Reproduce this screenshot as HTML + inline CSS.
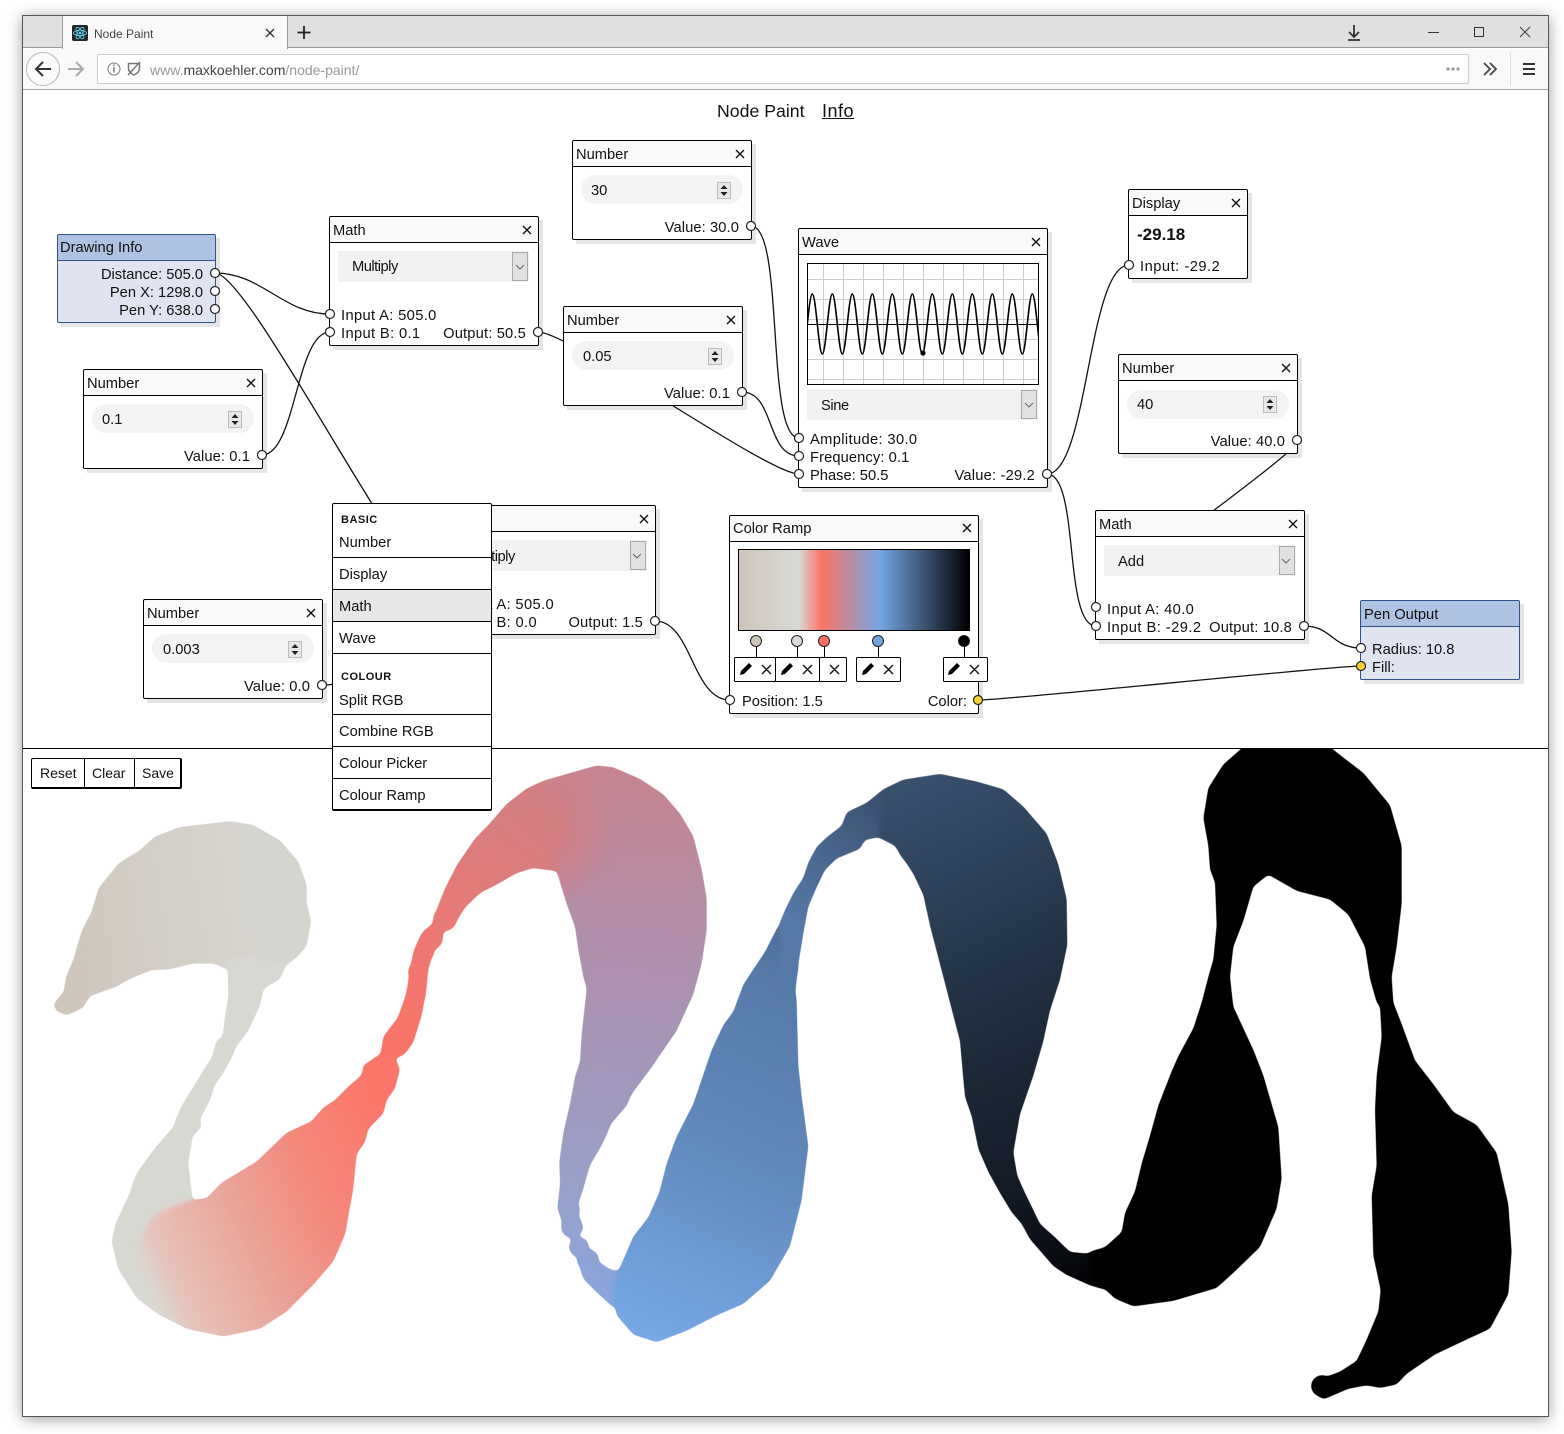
<!DOCTYPE html>
<html lang="en"><head><meta charset="utf-8"><title>Node Paint</title>
<style>
html,body{margin:0;padding:0;background:#fff}
#r{position:relative;width:1564px;height:1434px;overflow:hidden;background:#fff;font-family:"Liberation Sans",sans-serif;font-size:14.7px;color:#111}
#win{position:absolute;left:22px;top:15px;width:1525px;height:1400px;border:1px solid #555;box-shadow:0 2px 14px rgba(0,0,0,.38);background:#fff}
.b{position:absolute;box-sizing:border-box}
.n{position:absolute;box-sizing:border-box;border:1px solid #000;border-radius:2px;background:#fff}
.n>i{display:block;height:25px;border-bottom:1px solid #000;background:#f9f9f9;border-radius:2px 2px 0 0}
.n.p{border-color:#2f5288;background:#e0e4f0}
.n.p>i{background:#aec3e3;border-bottom-color:#2f5288}
.s{position:absolute;background:#f2f2f2}
.s>b{position:absolute;right:1px;top:1px;bottom:1px;width:16px;box-sizing:border-box;background:#e1e1e1;border:1px solid #aaa}
.pl{position:absolute;height:29px;width:162px;border-radius:15px;background:#f3f3f3}
.t{position:absolute;white-space:nowrap;line-height:18px;margin-top:1px}
.i{letter-spacing:.36px}
svg{position:absolute;left:0;top:0}
.m{position:absolute;left:332px;top:503px;width:160px;height:308px;box-sizing:border-box;background:#fff;border:1px solid #000;border-bottom-width:2px;border-radius:2px}
.l{position:absolute;left:332px;width:160px;height:1px;background:#000}
.h{font-size:11px;font-weight:bold;letter-spacing:.5px}
</style></head><body>
<div id="r">
<div id="win"></div>

<!-- browser chrome -->
<div class="b" style="left:23px;top:16px;width:1525px;height:32px;background:#e0e0e0;border-bottom:1px solid #999"></div>
<div class="b" style="left:62px;top:16px;width:226px;height:33px;background:#f9f9fa;border-left:1px solid #999;border-right:1px solid #999"></div>
<div class="b" style="left:23px;top:49px;width:1525px;height:41px;background:#f9f9fa;border-bottom:1px solid #a8a8a8"></div>
<div class="b" style="left:26px;top:52px;width:34px;height:34px;border-radius:50%;border:1px solid #b5b5b5;background:#fbfbfb"></div>
<div class="b" style="left:97px;top:54px;width:1372px;height:30px;background:#fff;border:1px solid #ccc;border-radius:2px"></div>
<div class="b" style="left:72px;top:25px;width:16px;height:16px;background:#222;border-radius:2px"></div>
<div class="t" style="left:94px;top:24px;font-size:12px;color:#444">Node Paint</div>
<div class="t" style="left:150px;top:60px;font-size:14px;color:#999">www.<span style="color:#444">maxkoehler.com</span>/node-paint/</div>

<!-- page title -->
<div class="t" style="left:717px;top:102px;margin-top:0;font-size:17.7px">Node Paint</div>
<div class="t" style="left:822px;top:102px;margin-top:0;font-size:18px;letter-spacing:.5px;text-decoration:underline">Info</div>

<!-- paint -->
<svg width="1564" height="1434" viewBox="0 0 1564 1434">
<defs>
<linearGradient id="g1" gradientUnits="userSpaceOnUse" x1="80" y1="660" x2="640" y2="560"><stop offset="0" stop-color="#cec6bc"/><stop offset="1" stop-color="#d6d4ce"/></linearGradient>
<linearGradient id="g2" gradientUnits="userSpaceOnUse" x1="265" y1="1330" x2="1045" y2="930"><stop offset="0" stop-color="#d9dad5"/><stop offset=".05" stop-color="#dcd3cd"/><stop offset=".1" stop-color="#e3c5be"/><stop offset=".17" stop-color="#e7bdb5"/><stop offset=".45" stop-color="#eb9e93"/><stop offset=".7" stop-color="#f5877a"/><stop offset="1" stop-color="#fb7568"/></linearGradient>
<linearGradient id="g3" gradientUnits="userSpaceOnUse" x1="0" y1="720" x2="450" y2="180"><stop offset="0" stop-color="#f97468"/><stop offset="1" stop-color="#d27f84"/></linearGradient>
<linearGradient id="g4" gradientUnits="userSpaceOnUse" x1="650" y1="40" x2="570" y2="1430"><stop offset="0" stop-color="#c6848f"/><stop offset=".3" stop-color="#b28ea9"/><stop offset=".55" stop-color="#a496b9"/><stop offset=".8" stop-color="#98a1cb"/><stop offset="1" stop-color="#88a5dc"/></linearGradient>
<radialGradient id="g4b" gradientUnits="userSpaceOnUse" cx="420" cy="200" r="220"><stop offset=".3" stop-color="#d27f84"/><stop offset="1" stop-color="#d27f84" stop-opacity="0"/></radialGradient>
<linearGradient id="g5" gradientUnits="userSpaceOnUse" x1="770" y1="1540" x2="1180" y2="480"><stop offset="0" stop-color="#76a8e6"/><stop offset=".5" stop-color="#6088ba"/><stop offset=".89" stop-color="#557aa8"/><stop offset="1" stop-color="#4e6e98"/></linearGradient>
<linearGradient id="g6" gradientUnits="userSpaceOnUse" x1="60" y1="480" x2="340" y2="170"><stop offset="0" stop-color="#557aa8"/><stop offset="1" stop-color="#3a5170"/></linearGradient>
<linearGradient id="g7" gradientUnits="userSpaceOnUse" x1="450" y1="80" x2="1000" y2="1400"><stop offset="0" stop-color="#384f6e"/><stop offset=".45" stop-color="#202e3f"/><stop offset=".75" stop-color="#141b26"/><stop offset=".9" stop-color="#0a0d13"/><stop offset="1" stop-color="#000"/></linearGradient>
<clipPath id="cp"><rect x="23" y="749" width="1525" height="666"/></clipPath>
<clipPath id="cw"><rect x="808" y="264" width="230" height="120"/></clipPath>
<filter id="sm" filterUnits="userSpaceOnUse" x="0" y="700" width="1564" height="734" color-interpolation-filters="sRGB">
<feGaussianBlur stdDeviation="2.4"/>
<feComponentTransfer><feFuncA type="linear" slope="6" intercept="-2.5"/></feComponentTransfer>
</filter>
</defs>
<g clip-path="url(#cp)">
<g filter="url(#sm)">
<circle cx="68" cy="1003" r="11" fill="#cfc7be"/>
<g transform="translate(40 750) scale(.33333 .3846)">
<polygon fill="url(#g1)" points="40,660 70,632 78,590 100,545 125,470 155,420 175,360 235,295 300,260 345,225 420,200 500,192 570,185 640,195 720,235 775,290 800,350 800,395 813,445 800,510 770,540 738,560 720,595 672,620 600,640 562,570 520,555 460,555 390,570 335,572 270,595 230,615 150,640 130,670 80,690 50,680"/>
<polygon fill="#d8d8d3" points="562,545 640,540 738,560 720,595 672,620 660,665 625,730 590,770 575,800 550,840 525,870 510,910 480,960 485,980 458,1005 445,1075 458,1170 470,1300 330,1450 290,1425 235,1350 215,1280 225,1235 265,1160 290,1100 340,1040 400,980 405,965 425,925 450,890 485,840 515,800 530,755 548,745 555,690 565,640"/>
<polygon fill="url(#g2)" points="265,1330 300,1270 340,1210 400,1185 458,1170 500,1165 545,1125 650,1070 740,995 815,965 850,930 885,910 925,875 965,845 970,820 1030,785 1065,800 1080,830 1065,880 1040,910 1030,945 985,985 975,1020 950,1050 940,1140 915,1260 880,1330 820,1390 740,1460 660,1505 550,1525 440,1505 350,1465 290,1425"/>
</g>
<g fill="#f47a6f"><circle cx="445" cy="919" r="12"/><circle cx="432" cy="938" r="11"/><circle cx="424" cy="952" r="10"/><circle cx="418" cy="972" r="10"/><circle cx="416" cy="993" r="10"/></g>
<g fill="#94a2d2"><circle cx="570" cy="1210" r="10"/><circle cx="572" cy="1227" r="11"/><circle cx="579" cy="1247" r="10"/><circle cx="588" cy="1260" r="11"/></g>
<g transform="translate(400 750) scale(.33333 .3846)">
<polygon fill="url(#g3)" points="-10,700 0,680 20,630 30,565 42,520 62,480 98,450 112,410 135,360 170,300 225,230 265,195 320,140 380,100 430,80 520,60 520,312 470,315 400,307 350,320 290,350 240,372 195,410 170,445 130,475 125,505 100,525 85,570 78,630 65,690 40,760 15,790 -5,800 -60,800 -50,745"/>
<polygon fill="url(#g4)" points="430,80 510,60 590,40 640,45 720,75 790,115 840,165 880,225 905,310 920,385 920,470 905,555 880,635 830,730 755,825 695,895 680,925 635,970 610,1020 570,1080 550,1140 535,1180 535,1205 550,1245 530,1265 565,1300 595,1330 630,1350 655,1355 690,1400 640,1450 590,1410 550,1375 530,1320 505,1295 515,1270 490,1240 472,1190 480,1130 478,1070 490,995 510,920 525,850 540,810 545,740 560,620 550,590 535,520 525,460 500,400 470,315"/>
<polygon fill="url(#g4b)" points="430,80 510,60 590,40 640,45 720,75 760,300 700,600 560,620 550,590 535,520 525,460 500,400 470,315"/>
<polygon fill="url(#g5)" points="655,1355 700,1265 745,1215 778,1150 800,1075 830,1005 880,920 935,780 970,715 1000,680 1030,610 1060,570 1095,525 1130,465 1170,410 1200,440 1195,570 1185,620 1190,650 1195,820 1205,900 1225,1030 1205,1170 1170,1290 1110,1380 1030,1440 950,1470 860,1510 770,1540 700,1520 650,1470 635,1400"/>
</g>
<g transform="translate(780 745) scale(.33333 .3846)">
<polygon fill="url(#g6)" points="0,460 20,420 40,385 70,345 85,305 110,265 140,240 185,210 200,175 260,150 310,115 370,90 370,300 345,262 295,240 255,247 240,270 170,295 135,325 110,370 85,420 70,490 55,570 45,650 0,650"/>
<polygon fill="url(#g7)" points="310,115 370,90 480,75 590,95 670,115 730,160 800,230 835,310 860,400 862,520 840,610 810,690 790,770 760,860 720,960 700,1060 712,1120 735,1165 755,1200 780,1245 825,1280 870,1318 920,1322 975,1310 1025,1270 1075,1340 970,1415 930,1405 860,1378 820,1355 785,1320 750,1285 725,1245 695,1215 660,1165 625,1110 595,1050 575,965 555,915 548,850 540,770 510,670 480,570 450,470 430,390 400,335 345,262 295,240"/>
</g>
<circle cx="1322" cy="1386" r="11" fill="#000"/>
<g transform="translate(1090 745) scale(.33333 .4292)">
<polygon fill="#000" points="0,1180 45,1170 95,1135 105,1090 135,1040 155,975 180,910 205,840 245,760 265,725 310,660 335,600 355,540 370,500 380,420 375,320 360,290 355,235 340,170 355,100 400,45 455,8 470,-20 710,-20 725,8 820,65 900,140 935,235 935,370 920,470 905,540 910,600 935,650 975,735 1030,790 1090,855 1160,885 1220,950 1255,1070 1265,1180 1255,1280 1200,1360 1130,1385 1035,1420 950,1465 920,1490 870,1498 830,1492 775,1500 700,1525 665,1505 680,1480 750,1460 800,1435 830,1385 865,1320 872,1270 850,1190 845,1050 860,980 855,850 860,770 875,680 870,610 860,600 840,545 825,470 775,395 720,360 620,340 535,302 490,330 460,410 430,470 420,540 430,610 490,710 520,770 565,890 575,1010 560,1080 510,1170 430,1230 380,1265 250,1295 130,1308 75,1290 45,1268 0,1255"/>
</g>
</g>
</g>
<rect x="23" y="748" width="1525" height="1" fill="#000"/>
<!-- node shadows -->
<g fill="#e5e5e5">
<rect x="61" y="238" width="159" height="89"/><rect x="333" y="220" width="210" height="130"/><rect x="576" y="144" width="180" height="100"/><rect x="567" y="310" width="180" height="100"/><rect x="802" y="232" width="250" height="260"/><rect x="1132" y="193" width="120" height="90"/><rect x="1122" y="358" width="180" height="100"/><rect x="1099" y="514" width="210" height="130"/><rect x="1364" y="604" width="160" height="80"/><rect x="87" y="373" width="180" height="100"/><rect x="147" y="603" width="180" height="100"/><rect x="450" y="509" width="210" height="130"/><rect x="733" y="519" width="250" height="199"/>
</g>
<!-- connectors -->
<g fill="none" stroke="#111" stroke-width="1.3">
<path d="M215,273C262,273 283,314 330,314"/>
<path d="M215,273C250,273 412,600 447,600"/>
<path d="M262,455C296,455 296,332 330,332"/>
<path d="M538,332C570,332 767,474 799,474"/>
<path d="M751,226C785,226 765,438 799,438"/>
<path d="M742,392C775,392 766,456 799,456"/>
<path d="M1047,474C1088,474 1088,265 1129,265"/>
<path d="M1047,474C1080,474 1063,626 1096,626"/>
<path d="M1297,440C1317,440 1076,607 1096,607"/>
<path d="M655,621C692,621 692,700 730,700"/>
<path d="M322,685C385,685 385,621 447,621"/>
<path d="M1304,626C1332,626 1332,648 1361,648"/>
<path d="M978,700C1010,700 1330,666 1361,666"/>
</g>
</svg>

<!-- nodes -->
<div class="n p" style="left:57px;top:234px;width:159px;height:89px"><i></i></div>
<div class="n" style="left:329px;top:216px;width:210px;height:130px"><i></i></div>
<div class="n" style="left:572px;top:140px;width:180px;height:100px"><i></i></div>
<div class="n" style="left:563px;top:306px;width:180px;height:100px"><i></i></div>
<div class="n" style="left:798px;top:228px;width:250px;height:260px"><i></i></div>
<div class="n" style="left:1128px;top:189px;width:120px;height:90px"><i></i></div>
<div class="n" style="left:1118px;top:354px;width:180px;height:100px"><i></i></div>
<div class="n" style="left:1095px;top:510px;width:210px;height:130px"><i></i></div>
<div class="n p" style="left:1360px;top:600px;width:160px;height:80px"><i></i></div>
<div class="n" style="left:83px;top:369px;width:180px;height:100px"><i></i></div>
<div class="n" style="left:143px;top:599px;width:180px;height:100px"><i></i></div>
<div class="n" style="left:446px;top:505px;width:210px;height:130px"><i></i></div>
<div class="n" style="left:729px;top:515px;width:250px;height:199px"><i></i></div>

<div class="s" style="left:338px;top:251px;width:191px;height:31px"><b></b></div>
<div class="s" style="left:807px;top:389px;width:231px;height:31px"><b></b></div>
<div class="s" style="left:1104px;top:545px;width:192px;height:31px"><b></b></div>
<div class="s" style="left:455px;top:540px;width:192px;height:31px"><b></b></div>
<div class="pl" style="left:581px;top:175px"></div>
<div class="pl" style="left:572px;top:341px"></div>
<div class="pl" style="left:1127px;top:390px"></div>
<div class="pl" style="left:92px;top:404px"></div>
<div class="pl" style="left:152px;top:634px"></div>
<div class="b" style="left:738px;top:549px;width:232px;height:82px;border:1px solid #000;background:linear-gradient(90deg,#cdc5bc 0,#d9dad5 26%,#fb7365 36%,#75a7e4 61%,#000 100%)"></div>

<!-- node text -->
<div class="t" style="left:60px;top:238px">Drawing Info</div>
<div class="t" style="right:1361px;top:265px">Distance: 505.0</div>
<div class="t" style="right:1361px;top:283px">Pen X: 1298.0</div>
<div class="t" style="right:1361px;top:301px">Pen Y: 638.0</div>
<div class="t" style="left:333px;top:221px">Math</div>
<div class="t" style="left:352px;top:257px;letter-spacing:-.5px">Multiply</div>
<div class="t i" style="left:341px;top:306px">Input A: 505.0</div>
<div class="t i" style="left:341px;top:324px">Input B: 0.1</div>
<div class="t" style="right:1038px;top:324px;letter-spacing:.17px">Output: 50.5</div>
<div class="t" style="left:576px;top:145px">Number</div>
<div class="t" style="left:591px;top:181px">30</div>
<div class="t" style="right:825px;top:218px;letter-spacing:.1px">Value: 30.0</div>
<div class="t" style="left:567px;top:311px">Number</div>
<div class="t" style="left:583px;top:347px">0.05</div>
<div class="t" style="right:834px;top:384px;letter-spacing:.1px">Value: 0.1</div>
<div class="t" style="left:802px;top:233px">Wave</div>
<div class="t" style="left:821px;top:396px;letter-spacing:-.4px">Sine</div>
<div class="t i" style="left:810px;top:430px">Amplitude: 30.0</div>
<div class="t" style="left:810px;top:448px;letter-spacing:.1px">Frequency: 0.1</div>
<div class="t" style="left:810px;top:466px">Phase: 50.5</div>
<div class="t" style="right:529px;top:466px;letter-spacing:.2px">Value: -29.2</div>
<div class="t" style="left:1132px;top:194px">Display</div>
<div class="t" style="left:1137px;top:225px;font-weight:bold;font-size:17px">-29.18</div>
<div class="t" style="left:1140px;top:257px;letter-spacing:.5px">Input: -29.2</div>
<div class="t" style="left:1122px;top:359px">Number</div>
<div class="t" style="left:1137px;top:395px">40</div>
<div class="t" style="right:279px;top:432px;letter-spacing:.1px">Value: 40.0</div>
<div class="t" style="left:1099px;top:515px">Math</div>
<div class="t" style="left:1118px;top:552px">Add</div>
<div class="t i" style="left:1107px;top:600px">Input A: 40.0</div>
<div class="t" style="left:1107px;top:618px;letter-spacing:.45px">Input B: -29.2</div>
<div class="t" style="right:272px;top:618px;letter-spacing:.17px">Output: 10.8</div>
<div class="t" style="left:1364px;top:605px">Pen Output</div>
<div class="t" style="left:1372px;top:640px">Radius: 10.8</div>
<div class="t" style="left:1372px;top:658px">Fill:</div>
<div class="t" style="left:87px;top:374px">Number</div>
<div class="t" style="left:102px;top:410px">0.1</div>
<div class="t" style="right:1314px;top:447px;letter-spacing:.1px">Value: 0.1</div>
<div class="t" style="left:147px;top:604px">Number</div>
<div class="t" style="left:163px;top:640px">0.003</div>
<div class="t" style="right:1254px;top:677px;letter-spacing:.1px">Value: 0.0</div>
<div class="t" style="left:469px;top:547px;letter-spacing:-.5px">Multiply</div>
<div class="t i" style="right:1010px;top:595px">Input A: 505.0</div>
<div class="t i" style="right:1027px;top:613px">Input B: 0.0</div>
<div class="t" style="right:921px;top:613px;letter-spacing:.17px">Output: 1.5</div>
<div class="t" style="left:733px;top:519px">Color Ramp</div>
<div class="t" style="left:742px;top:692px">Position: 1.5</div>
<div class="t" style="right:597px;top:692px">Color:</div>

<!-- reset bar -->
<div class="b" style="left:31px;top:758px;width:151px;height:31px;background:#fff;border:1px solid #000;border-right-width:2px;border-bottom-width:2px;border-radius:2px"></div>
<div class="b" style="left:84px;top:758px;width:1px;height:30px;background:#000"></div>
<div class="b" style="left:134px;top:758px;width:1px;height:30px;background:#000"></div>
<div class="t" style="left:40px;top:764px;margin-top:0;font-size:14px">Reset</div>
<div class="t" style="left:92px;top:764px;margin-top:0;font-size:14px">Clear</div>
<div class="t" style="left:142px;top:764px;margin-top:0;font-size:14px">Save</div>

<!-- overlay: icons, wave, ports -->
<svg width="1564" height="1434" viewBox="0 0 1564 1434">
<!-- wave -->
<rect x="807.5" y="263.5" width="231" height="121" fill="#fff" stroke="#000"/>
<path fill="none" stroke="#ccc" d="M823.5,264V384M843.5,264V384M863.5,264V384M883.5,264V384M903.5,264V384M923.5,264V384M943.5,264V384M963.5,264V384M983.5,264V384M1003.5,264V384M1023.5,264V384M808,279.5H1038M808,299.5H1038M808,319.5H1038M808,339.5H1038M808,359.5H1038M808,379.5H1038"/>
<path stroke="#000" d="M808,324.5H1038"/>
<path clip-path="url(#cw)" fill="none" stroke="#000" stroke-width="1.6" d="M792.3,294c3.64,0 6.36,60 10,60s6.36,-60 10,-60s6.36,60 10,60s6.36,-60 10,-60s6.36,60 10,60s6.36,-60 10,-60s6.36,60 10,60s6.36,-60 10,-60s6.36,60 10,60s6.36,-60 10,-60s6.36,60 10,60s6.36,-60 10,-60s6.36,60 10,60s6.36,-60 10,-60s6.36,60 10,60s6.36,-60 10,-60s6.36,60 10,60s6.36,-60 10,-60s6.36,60 10,60s6.36,-60 10,-60s6.36,60 10,60s6.36,-60 10,-60s6.36,60 10,60s6.36,-60 10,-60s6.36,60 10,60s6.36,-60 10,-60"/>
<circle cx="923" cy="353" r="2.6" fill="#000"/>
<!-- close icons -->
<path fill="none" stroke="#111" stroke-width="1.4" d="M523,226l8,8m0,-8l-8,8M736,150l8,8m0,-8l-8,8M727,316l8,8m0,-8l-8,8M1032,238l8,8m0,-8l-8,8M1232,199l8,8m0,-8l-8,8M1282,364l8,8m0,-8l-8,8M1289,520l8,8m0,-8l-8,8M247,379l8,8m0,-8l-8,8M307,609l8,8m0,-8l-8,8M640,515l8,8m0,-8l-8,8M963,524l8,8m0,-8l-8,8"/>
<!-- select chevrons -->
<path fill="none" stroke="#666" d="M516,265l4,4l4,-4M1025,403l4,4l4,-4M1282,559l4,4l4,-4M633,554l4,4l4,-4"/>
<!-- spinners -->
<g fill="#e8e8e8" stroke="#bbb"><rect x="717.5" y="182.5" width="13" height="16"/><rect x="708.5" y="348.5" width="13" height="16"/><rect x="1263.5" y="396.5" width="13" height="16"/><rect x="228.5" y="411.5" width="13" height="16"/><rect x="288.5" y="641.5" width="13" height="16"/></g>
<g fill="#222"><path d="M720.500,189h7l-3.500,-4zM720.500,192h7l-3.500,4zM711.500,355h7l-3.500,-4zM711.500,358h7l-3.500,4zM1266.500,403h7l-3.500,-4zM1266.500,406h7l-3.500,4zM231.500,418h7l-3.500,-4zM231.500,421h7l-3.500,4zM291.500,648h7l-3.500,-4zM291.500,651h7l-3.500,4z"/></g>
<!-- ramp handles -->
<path stroke="#000" d="M756.5,647V658M797.5,647V658M824.5,647V658M878.5,647V658M964.5,647V658"/>
<g stroke="#222"><circle cx="756" cy="641" r="5.5" fill="#cdc5bc"/><circle cx="797" cy="641" r="5.5" fill="#d9dad5"/><circle cx="824" cy="641" r="5.5" fill="#fb6f63"/><circle cx="878" cy="641" r="5.5" fill="#6fa4e0"/><circle cx="964" cy="641" r="5.5" fill="#000"/></g>
<g fill="#fff" stroke="#000"><rect x="734.5" y="657.5" width="41" height="24" rx="1"/><rect x="775.5" y="657.5" width="44" height="24" rx="1"/><rect x="819.5" y="657.5" width="27" height="24" rx="1"/><rect x="856.5" y="657.5" width="44" height="24" rx="1"/><rect x="943.5" y="657.5" width="44" height="24" rx="1"/></g>
<path fill="#000" d="M740,675l1,-4l8,-8l3,3l-8,8zM781,675l1,-4l8,-8l3,3l-8,8zM862,675l1,-4l8,-8l3,3l-8,8zM948,675l1,-4l8,-8l3,3l-8,8z"/>
<path fill="none" stroke="#111" stroke-width="1.4" d="M762,665l9,9m0,-9l-9,9M803,665l9,9m0,-9l-9,9M830,665l9,9m0,-9l-9,9M884,665l9,9m0,-9l-9,9M970,665l9,9m0,-9l-9,9"/>
<!-- ports -->
<g fill="#fff" stroke="#222" stroke-width="1.2">
<circle cx="215" cy="273" r="4.5"/><circle cx="215" cy="291" r="4.5"/><circle cx="215" cy="309" r="4.5"/>
<circle cx="330" cy="314" r="4.5"/><circle cx="330" cy="332" r="4.5"/><circle cx="538" cy="332" r="4.5"/>
<circle cx="751" cy="226" r="4.5"/><circle cx="742" cy="392" r="4.5"/>
<circle cx="799" cy="438" r="4.5"/><circle cx="799" cy="456" r="4.5"/><circle cx="799" cy="474" r="4.5"/><circle cx="1047" cy="474" r="4.5"/>
<circle cx="1129" cy="265" r="4.5"/><circle cx="1297" cy="440" r="4.5"/>
<circle cx="1096" cy="607" r="4.5"/><circle cx="1096" cy="626" r="4.5"/><circle cx="1304" cy="626" r="4.5"/>
<circle cx="1361" cy="648" r="4.5"/><circle cx="1361" cy="666" r="4.5" fill="#f7d130"/>
<circle cx="262" cy="455" r="4.5"/><circle cx="322" cy="685" r="4.5"/><circle cx="655" cy="621" r="4.5"/>
<circle cx="730" cy="700" r="4.5"/><circle cx="978" cy="700" r="4.5" fill="#f7d130"/>
</g>
<!-- chrome icons -->
<g fill="none" stroke="#61dafb" stroke-width=".8"><ellipse cx="80" cy="33" rx="6.5" ry="2.6"/><ellipse cx="80" cy="33" rx="6.5" ry="2.6" transform="rotate(60 80 33)"/><ellipse cx="80" cy="33" rx="6.5" ry="2.6" transform="rotate(120 80 33)"/></g>
<circle cx="80" cy="33" r="1.3" fill="#61dafb"/>
<path fill="none" stroke="#333" stroke-width="1.4" d="M266,29l8,8m0,-8l-8,8"/>
<path fill="none" stroke="#222" stroke-width="1.8" d="M304,26v13M297.5,32.5h13"/>
<path fill="none" stroke="#333" stroke-width="2" d="M36,69H51M43,62l-7,7l7,7"/>
<path fill="none" stroke="#aaa" stroke-width="2" d="M68,69H83M76,62l7,7l-7,7"/>
<circle cx="114" cy="69" r="6" fill="none" stroke="#777"/>
<path stroke="#777" stroke-width="1.4" d="M114,67v5.5M114,64.5v1.5"/>
<path fill="none" stroke="#777" stroke-width="1.5" d="M128.5,63.5h11v5q0,4 -5.500,6.500q-5.500,-2.500 -5.500,-6.500zM128,75L140,62"/>
<g fill="#999"><circle cx="1448" cy="69" r="1.6"/><circle cx="1453" cy="69" r="1.6"/><circle cx="1458" cy="69" r="1.6"/></g>
<path fill="none" stroke="#444" stroke-width="1.8" d="M1484,63l6,6l-6,6M1490,63l6,6l-6,6"/>
<path stroke="#ddd" d="M1510.500,52V86"/>
<path stroke="#333" stroke-width="2" d="M1523,64h12M1523,69h12M1523,74h12"/>
<path fill="none" stroke="#333" stroke-width="1.8" d="M1354,25v12M1349,32l5,5l5,-5M1348,40h12"/>
<path stroke="#333" d="M1428,32.500h11"/>
<rect x="1474.500" y="27.500" width="9" height="9" fill="none" stroke="#333"/>
<path stroke="#444" d="M1520,27l10,10m0,-10l-10,10"/>
</svg>

<!-- menu -->
<div class="m"></div>
<div class="b" style="left:333px;top:590px;width:158px;height:31px;background:#e8e8e8"></div>
<div class="l" style="top:557px"></div><div class="l" style="top:589px"></div><div class="l" style="top:621px"></div><div class="l" style="top:653px"></div><div class="l" style="top:714px"></div><div class="l" style="top:746px"></div><div class="l" style="top:778px"></div>
<div class="t h" style="left:341px;top:510px">BASIC</div>
<div class="t" style="left:339px;top:533px">Number</div>
<div class="t" style="left:339px;top:565px">Display</div>
<div class="t" style="left:339px;top:597px">Math</div>
<div class="t" style="left:339px;top:629px">Wave</div>
<div class="t h" style="left:341px;top:667px">COLOUR</div>
<div class="t" style="left:339px;top:691px">Split RGB</div>
<div class="t" style="left:339px;top:722px">Combine RGB</div>
<div class="t" style="left:339px;top:754px">Colour Picker</div>
<div class="t" style="left:339px;top:786px">Colour Ramp</div>
</div>
</body></html>
